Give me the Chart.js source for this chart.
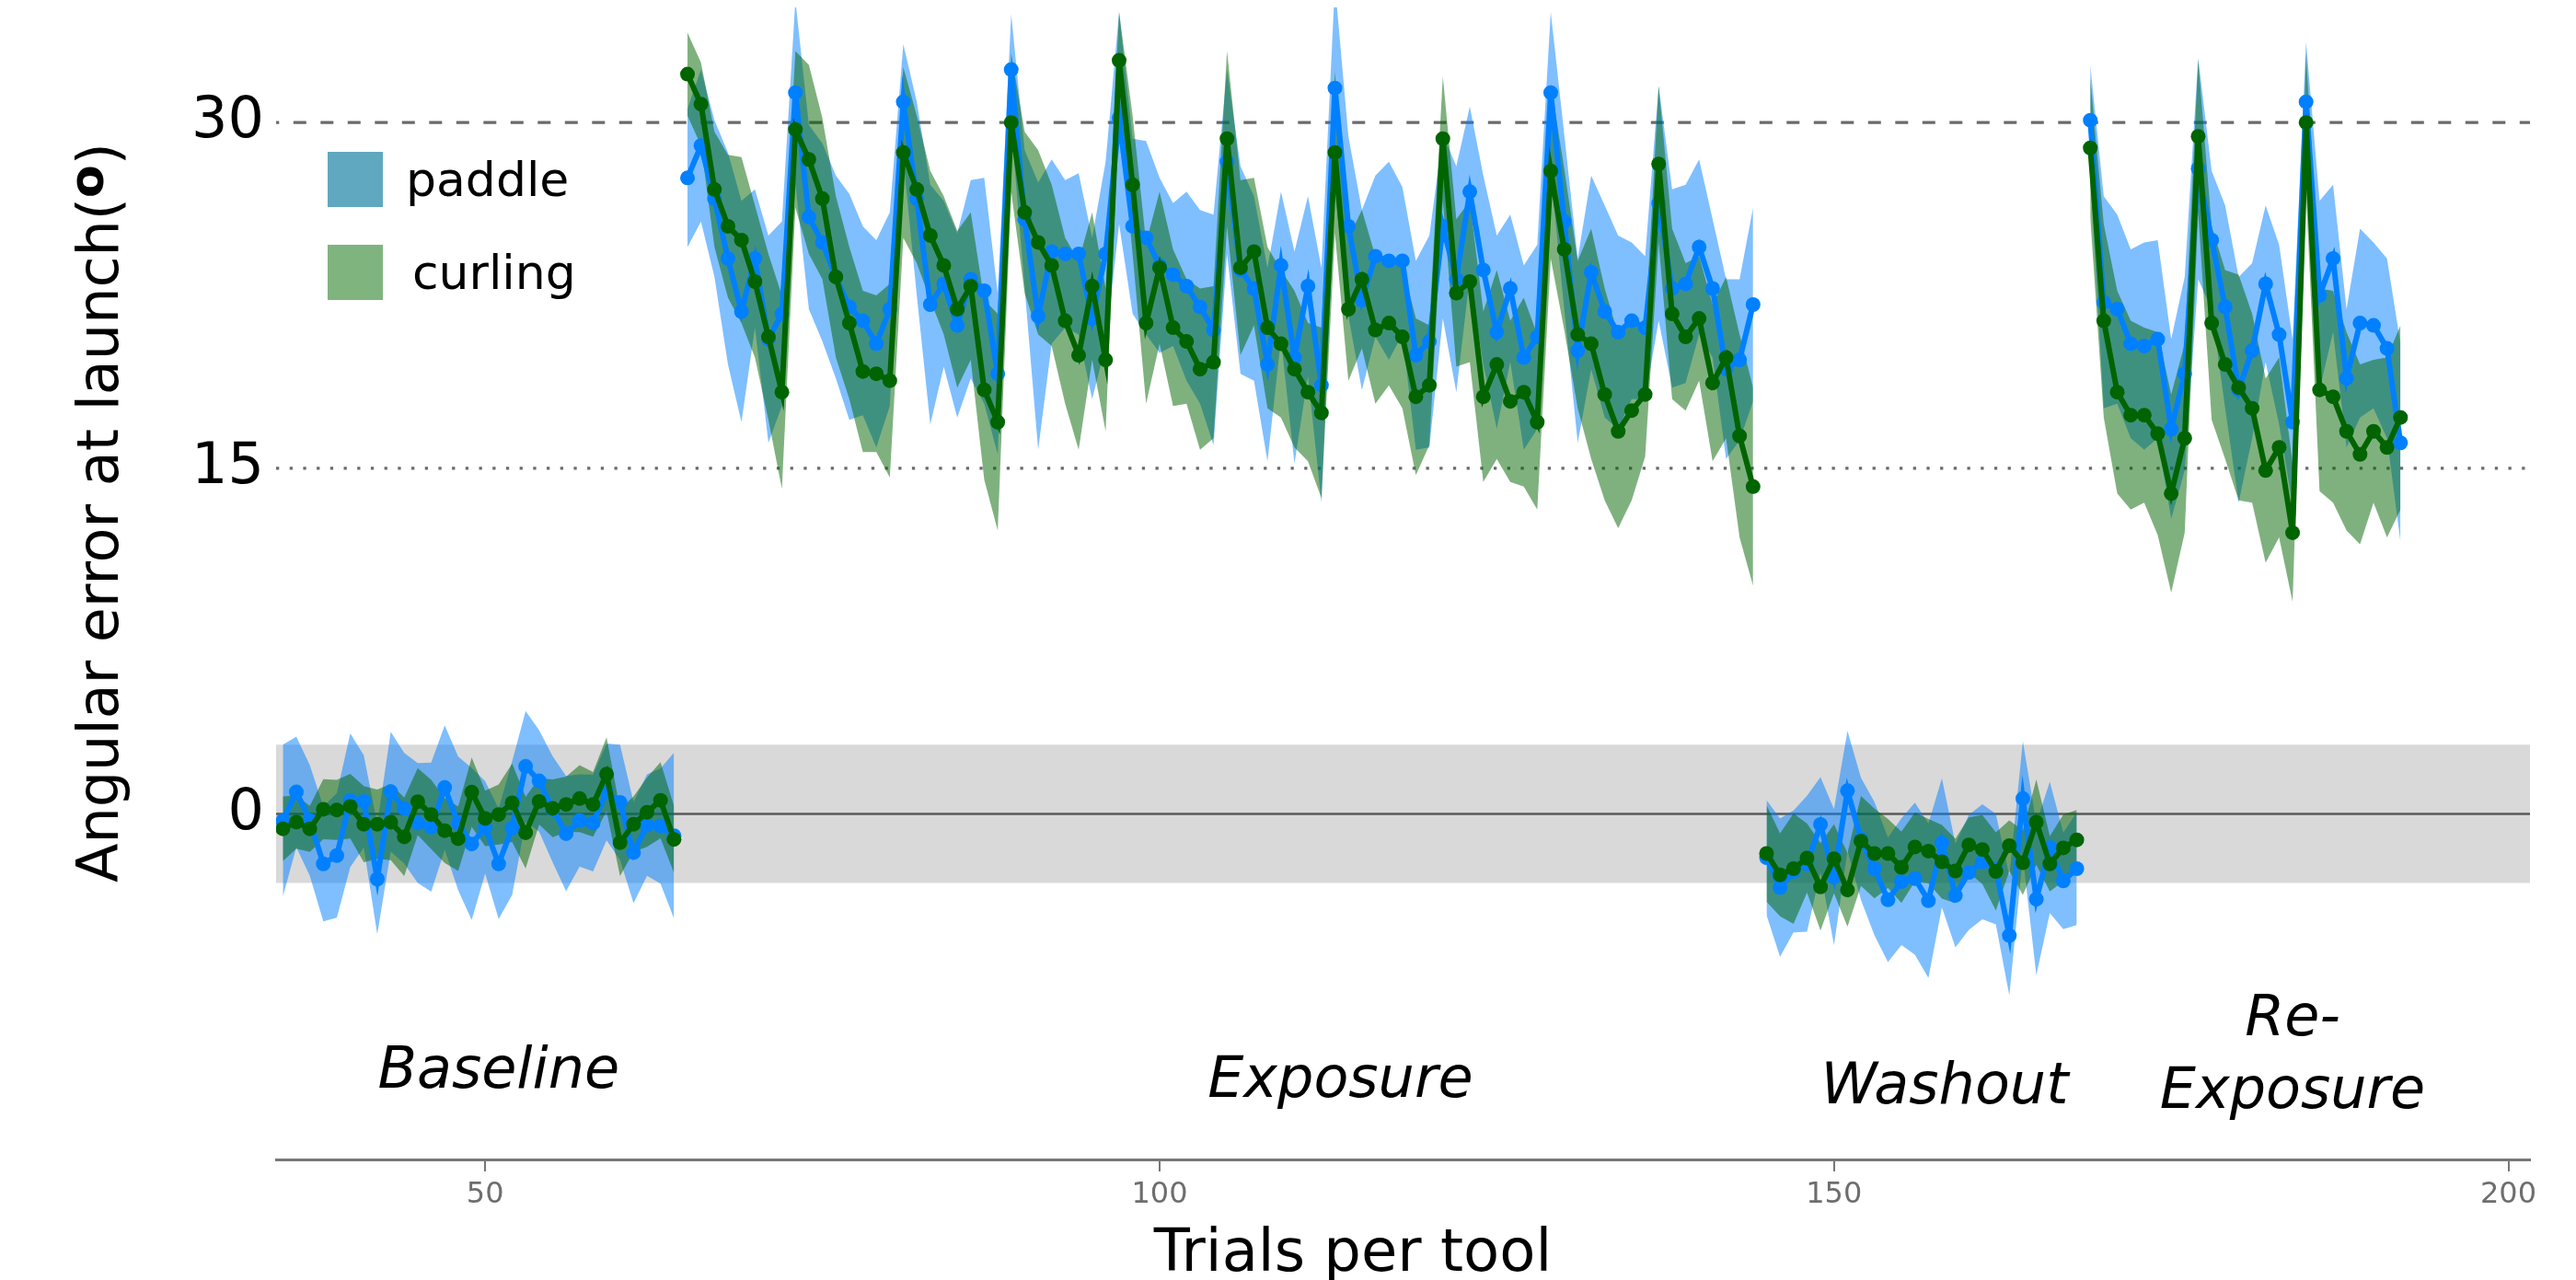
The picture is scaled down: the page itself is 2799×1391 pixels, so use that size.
<!DOCTYPE html>
<html>
<head>
<meta charset="utf-8">
<script src="https://cdn.jsdelivr.net/npm/chart.js@4.4.0/dist/chart.umd.min.js"></script>
<style>
  html, body { margin: 0; padding: 0; background: #fff; }
  #wrap { width: 2799px; height: 1391px; }
</style>
</head>
<body>
<div id="wrap"><canvas id="ANGERR" width="2799" height="1391"></canvas></div>
<script>
// first trial of each phase (trials run 35..192 without holes)
var phaseStart = [35, 65, 145, 169];
var phaseLabels = ['Baseline', 'Exposure', 'Washout', ['Re-', 'Exposure']];

// mean angular error per trial, paddle
var paddleMean = [
  // baseline 35-64
  -0.3, 0.95, -0.29, -2.17, -1.81, 0.59, 0.54, -2.83, 0.96, 0.24, -0.4, -0.58, 1.14, -0.42, -1.31,
  -0.59, -2.17, -0.62, 2.06, 1.43, 0.2, -0.86, -0.29, -0.4, 0.95, 0.5, -1.68, -0.49, -0.53, -0.95,
  // exposure 65-144
  27.6, 29.0, 26.7, 24.1, 21.8, 24.1, 20.6, 21.7,
  31.3, 25.9, 24.8, 23.3, 22.0, 21.4, 20.4, 21.9,
  30.9, 26.7, 22.1, 23.0, 21.2, 23.2, 22.7, 19.1,
  32.3, 25.8, 21.6, 24.4, 24.3, 24.3, 21.5, 24.3,
  30.2, 25.5, 25.0, 23.8, 23.4, 22.9, 22.0, 21.0,
  28.3, 23.6, 22.8, 19.5, 23.8, 19.8, 22.9, 18.6,
  31.5, 25.5, 22.3, 24.2, 24.0, 24.0, 19.9, 20.5,
  25.5, 23.2, 27.0, 23.6, 20.9, 22.8, 19.8, 20.7,
  31.3, 25.7, 20.1, 23.5, 21.8, 20.9, 21.4, 21.1,
  26.5, 22.8, 23.0, 24.6, 22.8, 19.3, 19.7, 22.1,
  // washout 145-168
  -1.9, -3.2, -2.5, -2.17, -0.46, -2.74, 1.0, -1.09, -2.38, -3.73, -2.94, -2.81,
  -3.77, -1.26, -3.54, -2.54, -2.08, -2.4, -5.28, 0.66, -3.7, -1.46, -2.91, -2.38,
  // re-exposure 169-192
  30.1, 22.2, 21.9, 20.4, 20.3, 20.6, 16.7, 19.1,
  28.0, 24.9, 22.0, 18.4, 20.1, 23.0, 20.8, 17.0,
  30.9, 22.5, 24.1, 18.9, 21.3, 21.2, 20.2, 16.1
];
var paddleErr = [
  3.3, 2.4, 2.4, 2.5, 2.7, 2.9, 2.0, 2.4, 2.6, 2.4, 2.6, 2.8, 2.7, 2.9, 3.3,
  2.0, 2.4, 2.9, 2.4, 2.2, 2.3, 2.5, 2.0, 2.1, 2.1, 2.5, 2.2, 2.2, 2.5, 3.6,
  3.0, 3.3, 3.4, 4.6, 4.8, 3.0, 4.5, 4.0,
  4.0, 4.0, 4.3, 4.4, 4.9, 4.1, 4.5, 4.2,
  2.5, 4.2, 5.2, 3.6, 4.0, 4.3, 4.9, 3.5,
  2.4, 3.0, 5.8, 4.0, 3.2, 3.5, 3.5, 4.0,
  4.6, 3.8, 4.2, 3.8, 3.1, 4.1, 4.2, 5.0,
  4.0, 4.5, 4.0, 4.2, 3.2, 4.6, 3.9, 5.1,
  4.5, 3.9, 3.9, 3.5, 4.3, 3.2, 4.1, 4.6,
  4.0, 4.9, 3.7, 4.1, 4.2, 3.2, 4.0, 4.0,
  3.5, 3.8, 4.0, 4.2, 4.6, 4.2, 3.4, 3.1,
  5.1, 4.3, 4.3, 3.8, 3.0, 3.9, 3.5, 4.2,
  2.5, 3.0, 2.65, 2.95, 2.05, 2.95, 2.6, 2.65, 2.9, 2.7, 2.75, 3.3,
  3.35, 2.8, 2.25, 2.5, 2.5, 2.4, 2.6, 2.5, 3.3, 2.85, 2.1, 2.45,
  2.4, 4.6, 4.1, 4.1, 4.5, 4.3, 3.9, 4.2,
  4.8, 3.0, 4.4, 4.9, 3.8, 3.4, 3.9, 3.6,
  2.6, 4.1, 3.2, 3.0, 4.1, 3.6, 3.9, 4.3
];

// mean angular error per trial, curling
var curlingMean = [
  -0.65, -0.36, -0.65, 0.2, 0.17, 0.33, -0.45, -0.45, -0.36, -1.0, 0.53, -0.03, -0.73, -1.08, 0.94,
  -0.2, -0.03, 0.48, -0.82, 0.54, 0.24, 0.41, 0.66, 0.41, 1.72, -1.25, -0.45, 0.07, 0.59, -1.11,
  32.1, 30.8, 27.1, 25.5, 24.9, 23.1, 20.7, 18.3,
  29.7, 28.4, 26.7, 23.3, 21.3, 19.2, 19.1, 18.8,
  28.7, 27.1, 25.1, 23.8, 21.9, 22.9, 18.4, 17.0,
  30.0, 26.1, 24.8, 23.8, 21.4, 19.9, 22.9, 19.7,
  32.7, 27.3, 21.3, 23.7, 21.1, 20.5, 19.3, 19.6,
  29.3, 23.7, 24.4, 21.1, 20.4, 19.3, 18.3, 17.4,
  28.7, 21.9, 23.2, 21.0, 21.3, 20.7, 18.1, 18.6,
  29.3, 22.6, 23.1, 18.1, 19.5, 17.9, 18.3, 17.0,
  27.9, 24.5, 20.8, 20.4, 18.2, 16.6, 17.5, 18.2,
  28.2, 21.7, 20.7, 21.5, 18.7, 19.8, 16.4, 14.2,
  -1.72, -2.65, -2.38, -1.92, -3.17, -1.95, -3.3, -1.18, -1.72, -1.72, -2.32, -1.44,
  -1.62, -2.08, -2.48, -1.35, -1.55, -2.5, -1.38, -2.12, -0.36, -2.17, -1.48, -1.13,
  28.9, 21.4, 18.3, 17.3, 17.3, 16.5, 13.9, 16.3,
  29.4, 21.3, 19.5, 18.5, 17.6, 14.9, 15.9, 12.2,
  30.0, 18.4, 18.1, 16.6, 15.6, 16.6, 15.9, 17.2
];
var curlingErr = [
  1.4, 1.15, 1.0, 1.3, 1.3, 1.4, 1.65, 1.5, 1.65, 1.7, 1.45, 1.5, 1.4, 1.4, 1.5,
  1.2, 1.3, 1.7, 1.55, 1.0, 1.25, 1.2, 1.45, 1.4, 1.6, 1.45, 1.2, 1.5, 1.65, 1.45,
  1.8, 1.8, 2.5, 3.1, 3.6, 3.3, 3.6, 4.2,
  3.4, 4.1, 3.5, 3.5, 3.3, 3.5, 3.4, 4.2,
  3.7, 3.2, 2.8, 3.0, 3.4, 3.2, 3.9, 4.7,
  3.0, 3.5, 4.0, 3.5, 3.6, 4.1, 3.2, 3.1,
  2.1, 3.0, 3.5, 3.3, 3.4, 2.7, 3.5, 3.3,
  3.8, 3.8, 3.2, 3.5, 3.2, 3.4, 3.0, 3.7,
  3.5, 3.1, 3.0, 3.2, 2.7, 3.1, 3.4, 2.6,
  2.7, 3.2, 3.5, 3.7, 4.1, 3.5, 4.1, 3.8,
  3.8, 3.5, 3.2, 5.0, 4.6, 4.2, 3.9, 2.7,
  3.4, 3.7, 3.2, 2.7, 3.4, 3.5, 4.4, 4.3,
  2.1, 1.8, 2.4, 1.5, 1.9, 1.5, 1.6, 1.95, 1.95, 1.5, 1.55, 1.5,
  1.4, 1.6, 1.4, 1.2, 1.5, 1.7, 1.1, 1.4, 1.85, 1.2, 1.45, 1.3,
  3.0, 4.2, 4.4, 4.1, 3.8, 4.4, 4.3, 4.1,
  3.3, 4.2, 4.1, 4.9, 4.1, 4.0, 3.9, 3.0,
  3.0, 4.4, 4.6, 4.3, 3.9, 3.1, 3.9, 4.0
];

var yTicks = [0, 15, 30];
var xTicks = [50, 100, 150, 200];
var zeroBand = 3;     // grey +-3 deg band
var dashedRef = 30;
var dottedRef = 15;

var paddleLine = '#0080ff', paddleFill = 'rgba(0,127,255,0.5)';
var curlingLine = '#006400', curlingFill = 'rgba(0,100,0,0.5)';
var font = 'DejaVu Sans';

var firstTrial = phaseStart[0];
var lastTrial = firstTrial + paddleMean.length - 1;

function points(mean, err, sign, from, to) {
  var out = [];
  for (var t = from; t <= to; t++) {
    var i = t - firstTrial;
    out.push({x: t, y: mean[i] + sign * (err ? err[i] : 0)});
  }
  return out;
}

function ribbon(mean, err, fill, from, to, order) {
  return [{
    data: points(mean, err, -1, from, to),
    borderColor: 'rgba(0,0,0,0)', borderWidth: 0, pointRadius: 0, fill: false, order: order
  }, {
    data: points(mean, err, 1, from, to),
    borderColor: 'rgba(0,0,0,0)', borderWidth: 0, pointRadius: 0,
    backgroundColor: fill, fill: '-1', order: order
  }];
}

function meanLine(mean, color, from, to, order) {
  return {
    data: points(mean, null, 0, from, to),
    borderColor: color, backgroundColor: color, borderWidth: 6,
    pointRadius: 8, pointBorderWidth: 0, pointBackgroundColor: color,
    fill: false, tension: 0, order: order
  };
}

var datasets = [];
phaseStart.forEach(function (start, p) {
  var end = p < phaseStart.length - 1 ? phaseStart[p + 1] - 1 : lastTrial;
  datasets = datasets.concat(ribbon(paddleMean, paddleErr, paddleFill, start, end, 40));
  datasets = datasets.concat(ribbon(curlingMean, curlingErr, curlingFill, start, end, 30));
  datasets.push(meanLine(paddleMean, paddleLine, start, end, 20));
  datasets.push(meanLine(curlingMean, curlingLine, start, end, 10));
});

// grey band, zero line and the two reference lines, under everything
var backdrop = {
  id: 'backdrop',
  beforeDatasetsDraw: function (chart) {
    var ctx = chart.ctx, a = chart.chartArea, y = chart.scales.y;
    ctx.save();
    ctx.fillStyle = '#d9d9d9';
    var t = y.getPixelForValue(zeroBand), b = y.getPixelForValue(-zeroBand);
    ctx.fillRect(a.left, t, a.right - a.left, b - t);

    ctx.strokeStyle = '#5a5a5a';
    ctx.lineWidth = 2.5;
    var z = y.getPixelForValue(0);
    ctx.beginPath(); ctx.moveTo(a.left, z); ctx.lineTo(a.right, z); ctx.stroke();

    ctx.strokeStyle = '#6a6a6a';
    ctx.lineWidth = 3.3;
    ctx.setLineDash([14, 15.5]);
    ctx.lineDashOffset = 10.7;
    var d = y.getPixelForValue(dashedRef);
    ctx.beginPath(); ctx.moveTo(a.left, d); ctx.lineTo(a.right, d); ctx.stroke();

    ctx.setLineDash([3.3, 11.4]);
    ctx.lineDashOffset = 0;
    var s = y.getPixelForValue(dottedRef);
    ctx.beginPath(); ctx.moveTo(a.left, s); ctx.lineTo(a.right, s); ctx.stroke();
    ctx.restore();
  }
};

// phase names, legend and axis titles
var labelX = [51.0, 113.4, 158.2, 184.0];
var labelY = [-11.9, -12.3, -12.55, -9.6];
var annotations = {
  id: 'annotations',
  afterDraw: function (chart) {
    var ctx = chart.ctx, x = chart.scales.x, y = chart.scales.y;
    ctx.save();
    ctx.fillStyle = '#000';
    ctx.textAlign = 'center';
    ctx.textBaseline = 'alphabetic';
    ctx.font = 'italic 62px "' + font + '"';
    phaseLabels.forEach(function (lab, i) {
      var px = x.getPixelForValue(labelX[i]), py = y.getPixelForValue(labelY[i]);
      var lines = Array.isArray(lab) ? lab : [lab];
      lines.forEach(function (ln, k) { ctx.fillText(ln, px, py + k * 79); });
    });

    // legend
    var keys = [['paddle', '#5fa8bf', 165, 441], ['curling', '#80b47f', 266, 448]];
    ctx.textAlign = 'left';
    ctx.textBaseline = 'middle';
    ctx.font = '52px "' + font + '"';
    keys.forEach(function (k) {
      ctx.fillStyle = k[1];
      ctx.fillRect(356, k[2], 60, 60);
      ctx.fillStyle = '#000';
      ctx.fillText(k[0], k[3], k[2] + 34);
    });

    // x title
    ctx.textAlign = 'center';
    ctx.textBaseline = 'alphabetic';
    ctx.font = '64px "' + font + '"';
    ctx.fillText('Trials per tool', 1470, 1381);

    // y title with bold raised degree sign
    ctx.translate(128, 557);
    ctx.rotate(-Math.PI / 2);
    var f1 = '62px "' + font + '"', f2 = 'bold 52px "' + font + '"';
    var p1 = 'Angular error at launch(', p2 = 'o', p3 = ')';
    ctx.font = f1; var w1 = ctx.measureText(p1).width, w3 = ctx.measureText(p3).width;
    ctx.font = f2; var w2 = ctx.measureText(p2).width;
    var x0 = -(w1 + w2 + w3) / 2;
    ctx.textAlign = 'left';
    ctx.font = f1; ctx.fillText(p1, x0, 0);
    ctx.font = f2; ctx.fillText(p2, x0 + w1, -16);
    ctx.font = f1; ctx.fillText(p3, x0 + w1 + w2, 0);
    ctx.restore();
  }
};

var ctxAngErr = document.getElementById('ANGERR').getContext('2d');
var angErrChart = new Chart(ctxAngErr, {
  type: 'line',
  data: { datasets: datasets },
  options: {
    responsive: false,
    animation: false,
    devicePixelRatio: 1,
    layout: { padding: { left: 0, right: 50, top: 1, bottom: 0 } },
    plugins: { legend: { display: false }, tooltip: { enabled: false } },
    scales: {
      x: {
        type: 'linear', min: 34.5, max: 201.6,
        afterBuildTicks: function (s) { s.ticks = xTicks.map(function (v) { return {value: v}; }); },
        afterFit: function (s) { s.height = 131; s.paddingLeft = 0; s.paddingRight = 0; },
        grid: { display: true, drawOnChartArea: false, drawTicks: true, tickLength: 13, color: '#777', lineWidth: 2 },
        border: { display: true, color: '#777', width: 3 },
        ticks: { color: '#6e6e6e', font: { family: font, size: 32 }, padding: 6, maxRotation: 0 }
      },
      y: {
        type: 'linear', min: -15, max: 35,
        afterBuildTicks: function (s) { s.ticks = yTicks.map(function (v) { return {value: v}; }); },
        afterFit: function (s) { s.width = 300; s.paddingTop = 0; s.paddingBottom = 0; },
        grid: { display: false, drawTicks: false },
        border: { display: false },
        ticks: { color: '#000', font: { family: font, size: 62 }, padding: 13 }
      }
    }
  },
  plugins: [backdrop, annotations]
});
</script>
</body>
</html>
